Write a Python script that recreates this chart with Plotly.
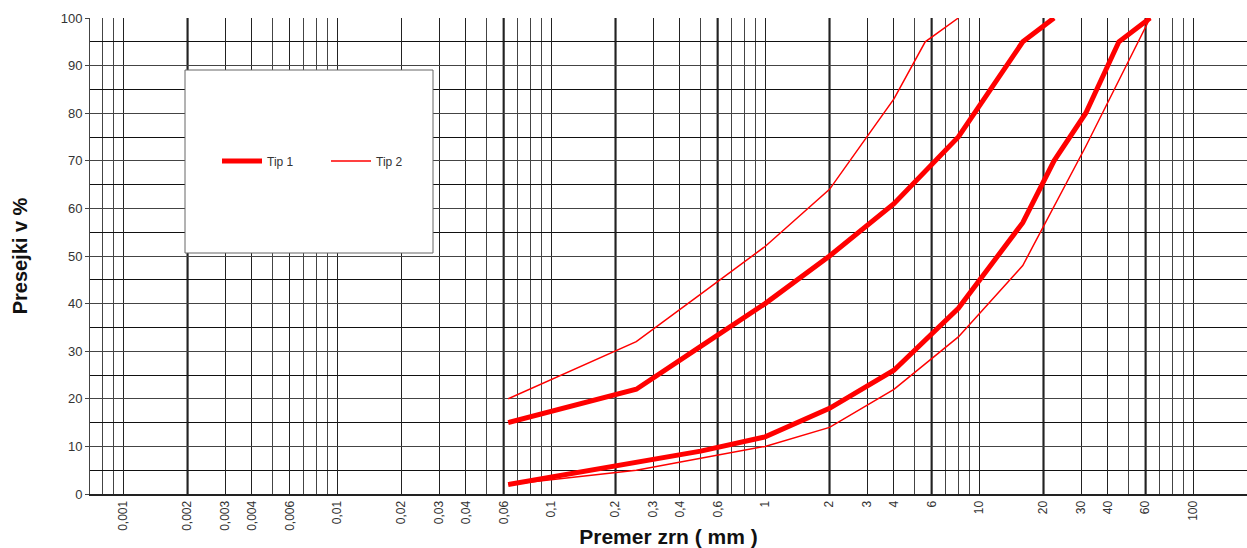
import math
import plotly.graph_objects as go

# ---- data (grain size mm, percent passing) ----
tip1_upper_d = [0.063, 0.25, 0.5, 1, 2, 4, 8, 16, 22.4]
tip1_upper_p = [15, 22, 31, 40, 50, 61, 75, 95, 100]
tip1_lower_d = [0.063, 0.25, 0.5, 1, 2, 4, 8, 16, 22.4, 31.5, 45, 63]
tip1_lower_p = [2, 6.5, 9, 12, 18, 26, 39, 57, 70, 80, 95, 100]
tip2_upper_d = [0.063, 0.25, 0.5, 1, 2, 4, 5.6, 8]
tip2_upper_p = [20, 32, 42, 52, 64, 83, 95, 100]
tip2_lower_d = [0.063, 0.25, 0.5, 1, 2, 4, 8, 16, 31.5, 63]
tip2_lower_p = [2, 5, 7.5, 10, 14, 22, 33, 48, 73, 100]

tick_vals = [0.001, 0.002, 0.003, 0.004, 0.006, 0.01, 0.02, 0.03, 0.04, 0.06,
             0.1, 0.2, 0.3, 0.4, 0.6, 1, 2, 3, 4, 6, 10, 20, 30, 40, 60, 100]
tick_text = ["0,001", "0,002", "0,003", "0,004", "0,006", "0,01", "0,02", "0,03", "0,04", "0,06",
             "0,1", "0,2", "0,3", "0,4", "0,6", "1", "2", "3", "4", "6", "10", "20", "30", "40", "60", "100"]
thick_vals = [0.002, 0.06, 0.2, 0.6, 2, 6, 20, 60]
mantissas = [1, 2, 3, 4, 5, 6, 7, 8, 9]
decades = [-4, -3, -2, -1, 0, 1]
y_ticks = [0, 10, 20, 30, 40, 50, 60, 70, 80, 90, 100]

minor_vals = []
for e in decades:
    for m in mantissas:
        v = round(m * 10 ** e, 6)
        if 0.0007 < v <= 100 and not any(abs(v - t) < 1e-9 for t in tick_vals):
            minor_vals.append(v)

RED = "#FF0000"
FONT = "Liberation Sans, Arial, sans-serif"
PW, PH, L, T = 1157, 476, 90, 18

fig = go.Figure()

def add_curve(d, p, name, width, show):
    fig.add_trace(go.Scatter(
        x=d, y=p, mode="lines", name=name, legendgroup=name, showlegend=show,
        line=dict(color=RED, width=width),
    ))

add_curve(tip1_upper_d, tip1_upper_p, "Tip 1", 5, True)
add_curve(tip1_lower_d, tip1_lower_p, "Tip 1", 5, False)
add_curve(tip2_upper_d, tip2_upper_p, "Tip 2", 1.5, True)
add_curve(tip2_lower_d, tip2_lower_p, "Tip 2", 1.5, False)

shapes = []
for v in thick_vals:
    shapes.append(dict(type="line", xref="x", yref="paper", x0=v, x1=v, y0=0, y1=1,
                       line=dict(color="#000000", width=2), layer="between"))
# legend box
shapes.append(dict(type="rect", xref="paper", yref="paper",
                   x0=(185 - L) / PW, x1=(433 - L) / PW,
                   y0=(T + PH - 253) / PH, y1=(T + PH - 70) / PH,
                   line=dict(color="#666666", width=1), fillcolor="white", layer="above"))

fig.update_layout(
    width=1247, height=548,
    margin=dict(l=L, r=0, t=T, b=548 - T - PH, autoexpand=False),
    paper_bgcolor="white", plot_bgcolor="white",
    font=dict(family=FONT, color="#333333", size=13),
    shapes=shapes,
    showlegend=True,
    legend=dict(orientation="h", xref="paper", yref="paper",
                x=(217 - L) / PW, y=(T + PH - 161) / PH, xanchor="left", yanchor="middle",
                bgcolor="rgba(0,0,0,0)", borderwidth=0,
                font=dict(family=FONT, size=12, color="#333333"),
                entrywidth=54, itemwidth=40),
    xaxis=dict(
        type="log",
        range=[math.log10(0.0007), 2.252],
        tickmode="array", tickvals=tick_vals, ticktext=tick_text,
        tickangle=-90, ticks="", tickfont=dict(size=12, color="#333333"),
        showgrid=True, gridcolor="#222222", gridwidth=1,
        minor=dict(tickmode="array", tickvals=minor_vals, showgrid=True,
                   gridcolor="#444444", gridwidth=1, ticks=""),
        showline=True, linecolor="#222222", linewidth=2,
        zeroline=False,
        title=dict(text="<b>Premer zrn ( mm )</b>", font=dict(size=21, color="#111111"), standoff=2),
    ),
    yaxis=dict(
        range=[0, 100], tickmode="array", tickvals=y_ticks,
        ticks="outside", ticklen=4, tickcolor="#444444",
        tickfont=dict(size=13, color="#333333"),
        showgrid=True, gridcolor="#444444", gridwidth=1,
        minor=dict(dtick=5, showgrid=True, gridcolor="#111111", gridwidth=1),
        showline=True, linecolor="#444444", linewidth=1,
        zeroline=False,
        title=dict(text="<b>Presejki v %</b>", font=dict(size=20, color="#111111"), standoff=27),
    ),
)

fig.write_html("out.html", config={"displayModeBar": False},
               post_script="document.body.style.margin='0px';document.body.style.overflow='hidden';")
